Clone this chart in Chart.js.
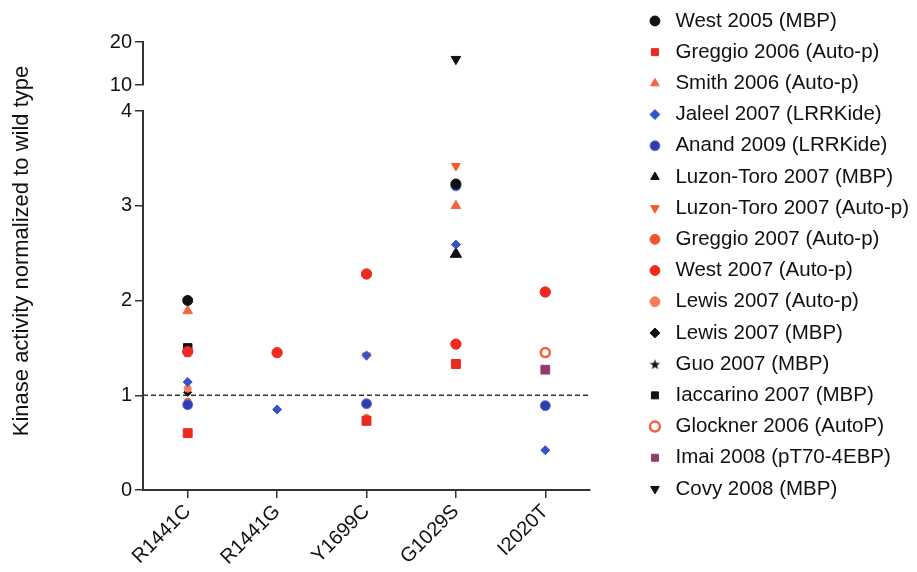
<!DOCTYPE html>
<html>
<head>
<meta charset="utf-8">
<script src="https://cdn.jsdelivr.net/npm/chart.js@4.4.1/dist/chart.umd.min.js"></script>
<style>
    body { margin: 0; background: #fff; }
</style>
</head>
<body>
<canvas id="kinaseChart" width="917" height="572"></canvas>
<script>
// mutations on the x axis
var mutations = ['R1441C', 'R1441G', 'Y1699C', 'G1029S', 'I2020T'];

// one array per study, values follow the mutations order (null = not tested)
var west2005      = [2.00, null, null, 3.23, null];
var greggio2006   = [0.60, null, 0.73, 1.33, null];
var smith2006     = [1.89, null, null, 3.00, null];
var jaleel2007    = [1.14, 0.85, 1.42, 2.59, 0.42];
var anand2009     = [0.90, null, 0.91, 3.21, 0.89];
var luzonMBP      = [null, null, null, 2.49, null];
var luzonAutoP    = [null, null, 1.42, 3.42, null];
var greggio2007   = [0.93, null, 0.76, null, null];
var west2007      = [1.46, 1.45, 2.28, 1.54, 2.09];
var lewisAutoP    = [1.07, null, null, null, null];
var lewisMBP      = [1.03, null, null, null, null];
var guo2007       = [1.45, null, null, null, null];
var iaccarino2007 = [1.50, null, null, null, null];
var glockner2006  = [null, null, null, null, 1.45];
var imai2008      = [null, null, null, null, 1.27];
var covy2008      = [null, null, null, 16.0, null];

// y axis ticks, lower part and upper part of the broken axis
var lowTicks = [0, 1, 2, 3, 4];
var highTicks = [10, 20];
var wildTypeLevel = 1;
var yAxisTitle = 'Kinase activity normalized to wild type';

var fam = '"Liberation Sans", Arial, Helvetica, sans-serif';
Chart.defaults.font.family = fam;
Chart.defaults.color = '#111';

function makeStar(size, color) {
    var c = document.createElement('canvas');
    c.width = size;
    c.height = size;
    var g = c.getContext('2d');
    g.fillStyle = color;
    g.beginPath();
    for (var i = 0; i < 10; i++) {
        var r = i % 2 ? size * 0.2 : size / 2;
        var a = -Math.PI / 2 + i * Math.PI / 5;
        g.lineTo(size / 2 + r * Math.cos(a), size / 2 + 0.5 + r * Math.sin(a));
    }
    g.closePath();
    g.fill();
    return c;
}

function series(label, data, shape, fill, radius, extra) {
    var ds = {
        label: label,
        data: data,
        yAxisID: 'y',
        showLine: false,
        pointStyle: shape,
        pointRadius: radius,
        pointHoverRadius: radius,
        pointBackgroundColor: fill,
        pointBorderColor: fill,
        pointBorderWidth: 1,
        backgroundColor: fill,
        borderColor: fill
    };
    for (var k in extra) ds[k] = extra[k];
    return ds;
}

var black = '#111';
var datasets = [
    series('West 2005 (MBP)', west2005, 'circle', black, 5),
    series('Greggio 2006 (Auto-p)', greggio2006, 'rect', '#ea2a1e', 6.3),
    series('Smith 2006 (Auto-p)', smith2006, 'triangle', '#f4643f', 5.5),
    series('Jaleel 2007 (LRRKide)', jaleel2007, 'rectRot', '#3454c8', 4.5),
    series('Anand 2009 (LRRKide)', anand2009, 'circle', '#2f3db2', 5, {pointBorderColor: '#6270d4', borderColor: '#6270d4'}),
    series('Luzon-Toro 2007 (MBP)', luzonMBP, 'triangle', black, 6.5),
    series('Luzon-Toro 2007 (Auto-p)', luzonAutoP, 'triangle', '#f25a2c', 5, {pointRotation: 180}),
    series('Greggio 2007 (Auto-p)', greggio2007, 'circle', '#f2552e', 3.6),
    series('West 2007 (Auto-p)', west2007, 'circle', '#ee2b22', 5.2),
    series('Lewis 2007 (Auto-p)', lewisAutoP, 'circle', '#f77c58', 3.6),
    series('Lewis 2007 (MBP)', lewisMBP, 'rectRot', black, 4),
    series('Guo 2007 (MBP)', guo2007, makeStar(11, black), black, 5),
    series('Iaccarino 2007 (MBP)', iaccarino2007, 'rect', black, 6),
    series('Glockner 2006 (AutoP)', glockner2006, 'circle', '#fff', 4.5, {pointBorderColor: '#f2623c', borderColor: '#f2623c', pointBorderWidth: 2.5}),
    series('Imai 2008 (pT70-4EBP)', imai2008, 'rect', '#933b6c', 6.2),
    series('Covy 2008 (MBP)', covy2008, 'triangle', black, 5.5, {pointRotation: 180, yAxisID: 'yTop'})
];

// dashed reference line at wild type level
var wildTypeLine = {
    id: 'wildTypeLine',
    beforeDatasetsDraw: function (chart) {
        var a = chart.chartArea;
        var y = chart.scales.y.getPixelForValue(wildTypeLevel);
        var ctx = chart.ctx;
        ctx.save();
        ctx.setLineDash([5, 3]);
        ctx.strokeStyle = '#333';
        ctx.lineWidth = 1.5;
        ctx.beginPath();
        ctx.moveTo(a.left, y);
        ctx.lineTo(a.right, y);
        ctx.stroke();
        ctx.restore();
    }
};

// one title for the whole broken axis
var yTitle = {
    id: 'yTitle',
    afterDraw: function (chart) {
        var ctx = chart.ctx;
        ctx.save();
        ctx.translate(22, 251);
        ctx.rotate(-Math.PI / 2);
        ctx.font = '22px ' + fam;
        ctx.fillStyle = '#111';
        ctx.textAlign = 'center';
        ctx.textBaseline = 'middle';
        ctx.fillText(yAxisTitle, 0, 0);
        ctx.restore();
    }
};

var axisGrid = {drawOnChartArea: false, tickLength: 8, color: '#333', lineWidth: 1.5};
var axisBorder = {color: '#333', width: 2};
var tickFont = {size: 20};
var blank = {
    stack: 'left', position: 'left', min: 0, max: 1,
    grid: {display: false}, ticks: {display: false}, border: {display: false}
};

new Chart(document.getElementById('kinaseChart'), {
    type: 'line',
    data: {labels: mutations, datasets: datasets},
    options: {
        responsive: false,
        animation: false,
        layout: {padding: 0},
        plugins: {
            title: {display: true, text: '', fullSize: false, padding: {top: 30, bottom: 0}, font: {size: 10}},
            tooltip: {enabled: false},
            legend: {
                position: 'right',
                align: 'start',
                maxWidth: 283,
                labels: {
                    usePointStyle: true,
                    boxWidth: 21,
                    boxHeight: 7,
                    padding: 10.7,
                    color: '#111',
                    font: {size: 20.5}
                }
            }
        },
        scales: {
            x: {
                offset: true,
                grid: {drawOnChartArea: false, offset: false, tickLength: 8, color: '#333', lineWidth: 1.5},
                border: axisBorder,
                ticks: {minRotation: 45, maxRotation: 45, font: tickFont, padding: 2},
                afterFit: function (s) { s.height = 82; }
            },
            y: {
                stack: 'left', stackWeight: 379, position: 'left',
                min: 0, max: 4,
                grid: axisGrid, border: axisBorder,
                ticks: {font: tickFont, padding: 3},
                afterBuildTicks: function (s) { s.ticks = lowTicks.map(function (v) { return {value: v}; }); },
                afterFit: function (s) { s.width = 143; }
            },
            yGap: Object.assign({stackWeight: 26, afterFit: function (s) { s.width = 143; }}, blank),
            yTop: {
                stack: 'left', stackWeight: 43, position: 'left',
                min: 10, max: 20,
                grid: axisGrid, border: axisBorder,
                ticks: {font: tickFont, padding: 3},
                afterBuildTicks: function (s) { s.ticks = highTicks.map(function (v) { return {value: v}; }); },
                afterFit: function (s) { s.width = 143; }
            },
            yRight: {
                position: 'right', min: 0, max: 1,
                grid: {display: false}, ticks: {display: false}, border: {display: false},
                afterFit: function (s) { s.width = 44; }
            }
        }
    },
    plugins: [wildTypeLine, yTitle]
});
</script>
</body>
</html>
